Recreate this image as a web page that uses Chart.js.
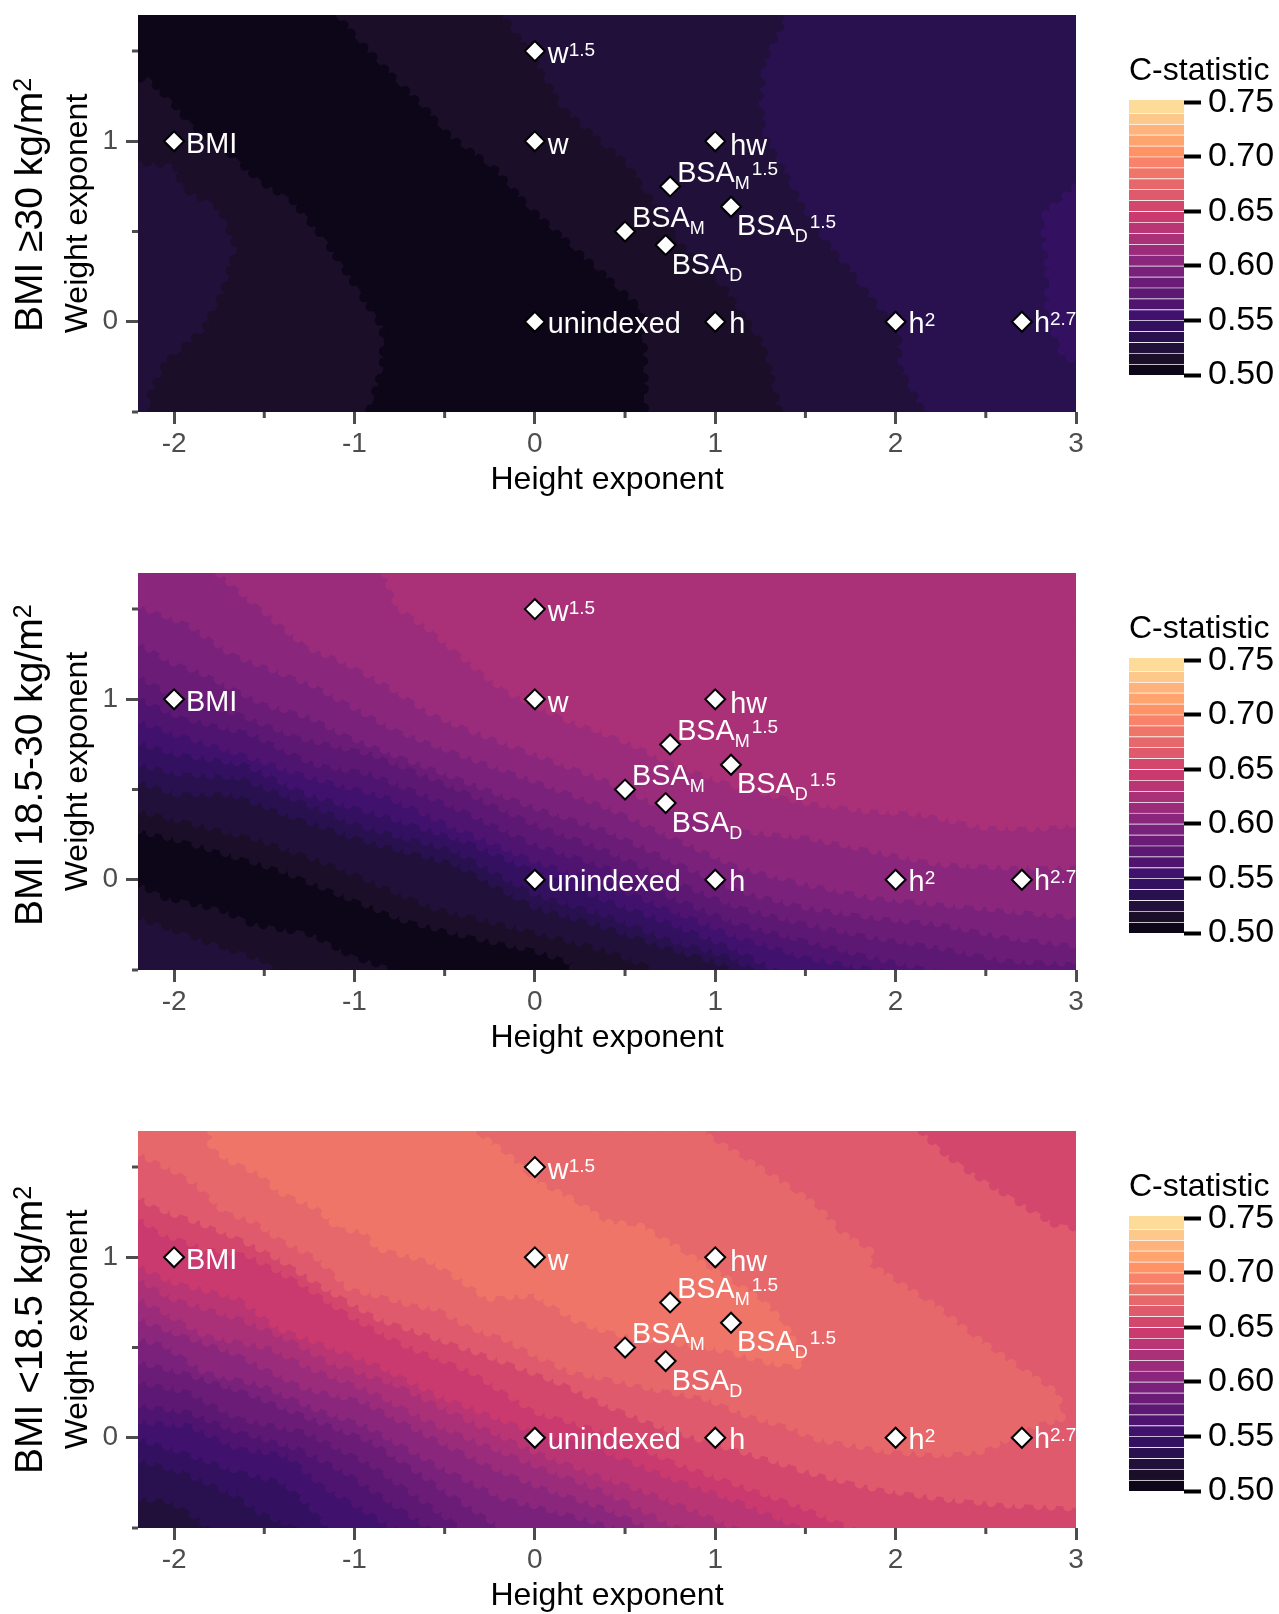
<!DOCTYPE html>
<html>
<head>
<meta charset="utf-8">
<title>C-statistic by height and weight exponent</title>
<script src="https://cdn.jsdelivr.net/npm/chart.js@4"></script>
<style>
  html, body { margin: 0; padding: 0; background: #fff; }
  #page { position: relative; width: 1279px; height: 1614px; overflow: hidden; }
  canvas { position: absolute; }
</style>
</head>
<body>
<div id="page"></div>
<script>
// axis ticks
const xMajorTicks = [-2, -1, 0, 1, 2, 3];
const xMinorTicks = [-1.5, -0.5, 0.5, 1.5, 2.5];
const yMajorTicks = [0, 1];
const yMinorTicks = [-0.5, 0.5, 1.5];
const colorbarTicks = [0.5, 0.55, 0.6, 0.65, 0.7, 0.75];
const colorbarEdges = [0.5, 0.51, 0.52, 0.53, 0.54, 0.55, 0.56, 0.57, 0.58, 0.59, 0.6, 0.61, 0.62, 0.63, 0.64, 0.65, 0.66, 0.67, 0.68, 0.69, 0.7, 0.71, 0.72, 0.73, 0.74, 0.7525];

// indexing methods, marked on each panel
const markerMain = ['BMI', 'w', 'w', 'hw', 'BSA', 'BSA', 'BSA', 'BSA', 'unindexed', 'h', 'h', 'h'];
const markerSub = ['', '', '', '', 'M', 'M', 'D', 'D', '', '', '', ''];
const markerSup = ['', '', '1.5', '', '1.5', '', '1.5', '', '', '', '2', '2.7'];
const markerX = [-2, 0, 0, 1, 0.75, 0.5, 1.0875, 0.725, 0, 1, 2, 2.7];
const markerY = [1, 1, 1.5, 1, 0.75, 0.5, 0.6375, 0.425, 0, 0, 0, 0];

// one colour per 0.01 step of the C-statistic
const magmaSteps = ['#0c0618', '#1b0e28', '#20103a', '#291150', '#331060', '#41116e', '#4f146f', '#5c1873', '#6a1c77', '#7a227b', '#8a277c', '#9a2c7b', '#aa3078', '#b93573', '#ca3a6e', '#d4476d', '#de5a6c', '#e7686a', '#f07569', '#f8836a', '#ff9366', '#ffa36f', '#feb27c', '#fdc98b', '#fddc9a'];

const X_MIN = -2.2, X_MAX = 3, Y_MIN = -0.5, Y_MAX = 1.7;

// contour, closed over the part of the plot above it
function above(points) {
  const out = points.slice();
  const first = points[0], last = points[points.length - 1];
  if (last[1] === Y_MIN) out.push([X_MAX, Y_MIN]);
  out.push([X_MAX, Y_MAX]);
  if (first[0] === X_MIN) out.push([X_MIN, Y_MAX]);
  return out;
}

const fullPlot = [[X_MIN, Y_MIN], [X_MAX, Y_MIN], [X_MAX, Y_MAX], [X_MIN, Y_MAX]];

// regions are painted in order, each is [C-statistic step, outline]
const obeseRegions = [
  [0.53, fullPlot],
  [0.54, [[3, 0.745], [2.82, 0.58], [2.85, 0.3], [2.85, 0.03], [2.94, -0.195], [3, -0.205]]],
  [0.52, [[-2.2, 1.7], [1.387, 1.7], [1.26, 1.447], [1.24, 1.225], [1.26, 1.04], [1.387, 0.8], [1.534, 0.524], [1.76, 0.247], [2.01, -0.066], [2.01, -0.25], [2.145, -0.5], [-2.2, -0.5]]],
  [0.51, [[-2.2, 1.7], [-0.192, 1.7], [0, 1.428], [0.136, 1.188], [0.36, 0.985], [0.5, 0.875], [0.81, 0.41], [1.05, 0.173], [1.26, -0.14], [1.35, -0.5], [-2.13, -0.5], [-2.13, -0.417], [-2.04, -0.23], [-1.83, -0.05], [-1.72, 0.17], [-1.65, 0.413], [-1.74, 0.635], [-1.945, 0.745], [-1.99, 0.875], [-2.2, 0.89]]],
  [0.5, [[-2.2, 1.7], [-1.11, 1.7], [-0.97, 1.54], [-0.79, 1.35], [-0.61, 1.17], [-0.475, 1.02], [-0.226, 0.84], [-0.045, 0.635], [0.18, 0.43], [0.385, 0.247], [0.584, 0.063], [0.6, -0.16], [0.606, -0.5], [-0.916, -0.5], [-0.837, -0.25], [-0.837, -0.03], [-1.018, 0.247], [-1.154, 0.45], [-1.335, 0.672], [-1.516, 0.782], [-1.7, 0.948], [-1.9, 1.096], [-2.01, 1.225], [-2.14, 1.354], [-2.2, 1.354]]]
];

const midRegions = [
  [0.52, fullPlot],
  [0.51, above([[-2.2, -0.199], [-1.83, -0.329], [-1.5, -0.439], [-1.43, -0.5]])],
  [0.5, above([[-2.2, -0.015], [-2.05, -0.089], [-1.72, -0.162], [-1.57, -0.236], [-1.24, -0.292], [-1, -0.421], [-0.74, -0.5]])],
  [0.51, above([[-2.2, 0.28], [-1.96, 0.225], [-1.4, 0.059], [-1.18, -0.033], [-0.72, -0.218], [-0.35, -0.31], [0, -0.384], [0.2, -0.449], [0.22, -0.5]])],
  [0.52, above([[-2.2, 0.391], [-1.96, 0.336], [-1.51, 0.225], [-1.09, 0.078], [-0.57, -0.144], [-0.11, -0.255], [0.406, -0.384], [0.58, -0.449], [0.69, -0.5]])],
  [0.53, above([[-2.2, 0.557], [-1.99, 0.484], [-1.68, 0.484], [-1.33, 0.354], [-0.94, 0.225], [-0.44, 0.096], [0, -0.144], [0.406, -0.255], [0.67, -0.347], [1.04, -0.458], [1.1, -0.5]])],
  [0.54, above([[-2.2, 0.65], [-1.96, 0.594], [-1.64, 0.576], [-1.31, 0.447], [-0.94, 0.299], [-0.44, 0.17], [0, -0.07], [0.406, -0.19], [0.765, -0.329], [1.1, -0.421], [1.226, -0.5]])],
  [0.55, above([[-2.2, 0.77], [-1.98, 0.705], [-1.61, 0.65], [-1.26, 0.484], [-0.87, 0.373], [-0.39, 0.225], [0, 0.059], [0.406, -0.107], [0.765, -0.236], [1.134, -0.384], [1.355, -0.5]])],
  [0.56, above([[-2.2, 0.89], [-1.99, 0.816], [-1.68, 0.723], [-1.24, 0.576], [-0.81, 0.465], [-0.44, 0.299], [0, 0.114], [0.406, -0.015], [0.765, -0.162], [1.134, -0.31], [1.503, -0.421], [1.965, -0.5]])],
  [0.57, above([[-2.2, 1.019], [-1.96, 0.908], [-1.57, 0.816], [-1.22, 0.65], [-0.9, 0.594], [-0.44, 0.41], [0, 0.207], [0.406, 0.078], [0.765, -0.089], [1.134, -0.236], [1.503, -0.329], [1.873, -0.421], [2.242, -0.5]])],
  [0.58, above([[-2.2, 1.139], [-1.98, 1.019], [-1.64, 0.927], [-1.31, 0.797], [-0.9, 0.705], [-0.44, 0.52], [0, 0.317], [0.406, 0.17], [0.765, 0.004], [1.134, -0.144], [1.503, -0.236], [1.873, -0.31], [2.242, -0.365], [2.61, -0.439], [3, -0.458]])],
  [0.59, above([[-2.2, 1.323], [-2.01, 1.213], [-1.83, 1.148], [-1.5, 0.982], [-1.24, 0.908], [-1.02, 0.797], [-0.74, 0.687], [-0.44, 0.576], [0, 0.41], [0.406, 0.28], [0.765, 0.114], [1.134, -0.052], [1.503, -0.144], [1.873, -0.199], [2.242, -0.236], [2.61, -0.31], [3, -0.356]])],
  [0.6, above([[-2.2, 1.526], [-1.92, 1.425], [-1.68, 1.259], [-1.22, 1.083], [-1, 0.963], [-0.76, 0.834], [-0.42, 0.705], [0, 0.557], [0.406, 0.41], [0.765, 0.244], [1.134, 0.078], [1.503, -0.015], [1.873, -0.089], [2.242, -0.126], [2.61, -0.162], [3, -0.199]])],
  [0.61, above([[-1.745, 1.7], [-1.46, 1.462], [-1.26, 1.296], [-1.07, 1.222], [-0.83, 1.093], [-0.57, 0.927], [-0.35, 0.834], [0, 0.705], [0.406, 0.557], [0.67, 0.428], [1.134, 0.28], [1.503, 0.244], [1.873, 0.17], [2.242, 0.096], [2.61, 0.078], [3, 0.078]])],
  [0.62, above([[-0.83, 1.7], [-0.757, 1.517], [-0.572, 1.388], [-0.332, 1.185], [-0.166, 1.056], [0.185, 0.89], [0.351, 0.834], [0.488, 0.779], [0.58, 0.742], [0.765, 0.65], [1.134, 0.52], [1.503, 0.437], [1.835, 0.391], [2.15, 0.373], [2.48, 0.299], [2.796, 0.29], [3, 0.317]])]
];

const leanRegions = [
  [0.52, fullPlot],
  [0.53, above([[-2.2, -0.327], [-2.01, -0.345], [-1.9, -0.419], [-1.79, -0.5]])],
  [0.54, above([[-2.2, -0.114], [-1.96, -0.179], [-1.66, -0.308], [-1.53, -0.4], [-1.31, -0.5]])],
  [0.55, above([[-2.2, 0.005], [-1.96, -0.068], [-1.64, -0.179], [-1.4, -0.234], [-1.27, -0.345], [-1.13, -0.5]])],
  [0.56, above([[-2.2, 0.098], [-1.92, 0.079], [-1.64, -0.05], [-1.37, -0.087], [-1.18, -0.253], [-0.76, -0.5]])],
  [0.57, above([[-2.2, 0.19], [-1.92, 0.153], [-1.64, 0.042], [-1.31, -0.05], [-1.05, -0.179], [-0.57, -0.5]])],
  [0.58, above([[-2.2, 0.319], [-1.92, 0.264], [-1.64, 0.116], [-1.27, 0.042], [-0.9, -0.142], [-0.39, -0.5]])],
  [0.59, above([[-2.2, 0.43], [-1.96, 0.374], [-1.61, 0.264], [-1.24, 0.116], [-0.9, -0.012], [-0.54, -0.253], [-0.17, -0.5]])],
  [0.6, above([[-2.2, 0.559], [-2.05, 0.522], [-1.83, 0.374], [-1.51, 0.301], [-1.22, 0.171], [-0.94, 0.079], [-0.54, -0.142], [-0.17, -0.327], [0.2, -0.42], [0.49, -0.5]])],
  [0.61, above([[-2.2, 0.67], [-2.01, 0.596], [-1.68, 0.485], [-1.27, 0.283], [-0.94, 0.208], [-0.63, 0.042], [-0.26, -0.142], [0, -0.253], [0.395, -0.382], [0.66, -0.5]])],
  [0.62, above([[-2.2, 0.781], [-2.09, 0.725], [-1.83, 0.578], [-1.46, 0.504], [-1.24, 0.393], [-0.9, 0.264], [-0.54, 0.079], [0, -0.142], [0.395, -0.29], [0.58, -0.382], [0.82, -0.5]])],
  [0.63, above([[-2.2, 0.891], [-2.01, 0.781], [-1.64, 0.67], [-1.37, 0.559], [-1.14, 0.43], [-0.76, 0.301], [-0.35, 0.098], [0, -0.068], [0.395, -0.216], [0.67, -0.308], [0.95, -0.419], [1.134, -0.5]])],
  [0.64, above([[-2.2, 0.965], [-2.01, 0.873], [-1.64, 0.781], [-1.42, 0.615], [-1.16, 0.522], [-0.87, 0.411], [-0.54, 0.245], [0, 0.042], [0.395, -0.068], [0.765, -0.216], [1.134, -0.345], [1.503, -0.5]])],
  [0.65, above([[-2.2, 1.233], [-2.09, 1.15], [-1.83, 1.057], [-1.59, 1.021], [-1.31, 0.873], [-1, 0.67], [-0.72, 0.522], [-0.35, 0.374], [0, 0.153], [0.395, 0.042], [0.765, -0.124], [1.134, -0.253], [1.503, -0.382], [1.78, -0.5]])],
  [0.66, above([[-2.2, 1.345], [-2.09, 1.279], [-1.87, 1.205], [-1.64, 1.113], [-1.42, 1.002], [-1.16, 0.836], [-0.87, 0.67], [-0.54, 0.559], [-0.17, 0.43], [0.17, 0.301], [0.395, 0.19], [0.67, 0.079], [0.95, -0.012], [1.28, -0.105], [1.503, -0.179], [1.873, -0.271], [2.242, -0.327], [2.61, -0.364], [3, -0.382]])],
  [0.65, [[2.15, 1.7], [2.26, 1.594], [2.408, 1.484], [2.648, 1.334], [2.888, 1.187], [3, 1.17], [3, 1.7]]],
  [0.67, [[-2.2, 1.585], [-2.01, 1.493], [-1.87, 1.41], [-1.72, 1.26], [-1.55, 1.205], [-1.42, 1.113], [-1.2, 1.002], [-1.03, 0.836], [-0.81, 0.781], [-0.68, 0.744], [-0.54, 0.725], [-0.35, 0.615], [-0.17, 0.559], [0, 0.467], [0.2, 0.374], [0.395, 0.337], [0.635, 0.283], [0.95, 0.226], [1.17, 0.135], [1.43, 0.061], [1.54, 0.005], [1.965, -0.068], [2.242, -0.087], [2.48, -0.068], [2.777, 0.079], [2.925, 0.116], [2.888, 0.245], [2.61, 0.43], [2.426, 0.559], [2.242, 0.707], [1.836, 0.965], [1.873, 1.021], [1.688, 1.131], [1.577, 1.26], [1.503, 1.316], [1.28, 1.465], [1.134, 1.557], [0.95, 1.667], [0.93, 1.7], [-2.2, 1.7]]],
  [0.68, [[-1.79, 1.7], [-1.79, 1.612], [-1.68, 1.539], [-1.51, 1.465], [-1.42, 1.373], [-1.2, 1.279], [-1.09, 1.168], [-0.94, 1.15], [-0.87, 1.057], [-0.57, 0.984], [-0.42, 0.891], [-0.26, 0.781], [0, 0.799], [0.24, 0.652], [0.406, 0.596], [0.58, 0.559], [1.005, 0.504], [1.28, 0.43], [1.448, 0.402], [1.485, 0.43], [1.374, 0.633], [1.245, 0.762], [1.005, 0.91], [0.765, 1.057], [0.58, 1.168], [0.395, 1.187], [0.2, 1.316], [0, 1.41], [-0.15, 1.557], [-0.35, 1.7]]]
];

const panels = [
  { top: 0, main: 'BMI \u226530 kg/m', labelStart: 332, regions: obeseRegions },
  { top: 558, main: 'BMI 18.5-30 kg/m', labelStart: 368, regions: midRegions },
  { top: 1116, main: 'BMI <18.5 kg/m', labelStart: 358, regions: leanRegions }
];

// pixel offset of each marker's text from its diamond
const labelDx = [12, 13, 13, 15, 7, 7, 6, 6, 13, 14, 13, 12];
const labelDy = [12, 13, 12, 14, -4, -5, 28, 29, 11, 11, 11, 10];

const FONT = '"Liberation Sans", Arial, sans-serif';
const TICK_GREY = '#4d4d4d';
const page = document.getElementById('page');

function bandColor(step) {
  return magmaSteps[Math.round((step - 0.5) * 100)];
}

function addCanvas(left, top, width, height) {
  const c = document.createElement('canvas');
  c.width = width;
  c.height = height;
  c.style.left = left + 'px';
  c.style.top = top + 'px';
  c.style.width = width + 'px';
  c.style.height = height + 'px';
  page.appendChild(c);
  return c;
}

// short ticks without a label, Chart.js has only one tick length per axis
const minorTicks = {
  id: 'minorTicks',
  afterDraw(chart) {
    const { ctx, chartArea, scales } = chart;
    ctx.save();
    ctx.strokeStyle = TICK_GREY;
    ctx.lineWidth = 3;
    ctx.beginPath();
    xMinorTicks.forEach(v => {
      const px = scales.x.getPixelForValue(v);
      ctx.moveTo(px, chartArea.bottom);
      ctx.lineTo(px, chartArea.bottom + 6);
    });
    yMinorTicks.forEach(v => {
      const py = scales.y.getPixelForValue(v);
      ctx.moveTo(chartArea.left, py);
      ctx.lineTo(chartArea.left - 6, py);
    });
    ctx.stroke();
    ctx.restore();
  }
};

// white labels next to the diamonds, with their sub and superscripts
const markerLabels = {
  id: 'markerLabels',
  afterDatasetsDraw(chart) {
    const { ctx, scales } = chart;
    ctx.save();
    ctx.fillStyle = '#fff';
    ctx.textBaseline = 'alphabetic';
    ctx.textAlign = 'left';
    markerMain.forEach((text, i) => {
      let x = scales.x.getPixelForValue(markerX[i]) + labelDx[i];
      const y = scales.y.getPixelForValue(markerY[i]) + labelDy[i];
      ctx.font = '28.8px ' + FONT;
      ctx.fillText(text, x, y);
      x += ctx.measureText(text).width;
      if (markerSub[i]) {
        ctx.font = '18px ' + FONT;
        ctx.fillText(markerSub[i], x, y + 7);
        x += ctx.measureText(markerSub[i]).width + 2;
      }
      if (markerSup[i]) {
        ctx.font = '19px ' + FONT;
        ctx.fillText(markerSup[i], x, y - 7);
      }
    });
    ctx.restore();
  }
};

// rotated panel name at the far left
const panelName = {
  id: 'panelName',
  afterDraw(chart, args, opts) {
    const ctx = chart.ctx;
    ctx.save();
    ctx.translate(42, opts.start);
    ctx.rotate(-Math.PI / 2);
    ctx.fillStyle = '#000';
    ctx.textAlign = 'left';
    ctx.textBaseline = 'alphabetic';
    ctx.font = '39px ' + FONT;
    ctx.fillText(opts.text, 0, 0);
    const w = ctx.measureText(opts.text).width;
    ctx.font = '25px ' + FONT;
    ctx.fillText('2', w, -11);
    ctx.restore();
  }
};

function drawPanel(panel) {
  const canvas = addCanvas(0, panel.top, 1095, 515);

  // the round dashes along each outline give the scalloped contour edge
  const regionSets = panel.regions.map(([step, outline]) => ({
    data: outline.map(([x, y]) => ({ x, y })),
    showLine: true,
    fill: 'shape',
    backgroundColor: bandColor(step),
    borderColor: bandColor(step),
    borderWidth: 10,
    borderCapStyle: 'round',
    borderDash: [0.01, 13, 0.01, 17, 0.01, 11, 0.01, 19],
    pointRadius: 0,
    tension: 0,
    clip: 0
  })).reverse(); // first dataset ends up on top

  new Chart(canvas, {
    type: 'scatter',
    data: {
      datasets: [{
        data: markerX.map((x, i) => ({ x, y: markerY[i] })),
        pointStyle: 'rectRot',
        pointRadius: 10,
        pointBackgroundColor: '#fff',
        pointBorderColor: '#000',
        pointBorderWidth: 2,
        showLine: false,
        clip: false
      }, ...regionSets]
    },
    options: {
      responsive: false,
      animation: false,
      devicePixelRatio: 1,
      layout: { padding: { top: 15, bottom: 8, left: 0, right: 19 } },
      plugins: {
        legend: { display: false },
        tooltip: { enabled: false },
        panelName: { text: panel.main, start: panel.labelStart }
      },
      scales: {
        x: {
          type: 'linear',
          min: X_MIN,
          max: X_MAX,
          afterBuildTicks: s => { s.ticks = xMajorTicks.map(value => ({ value })); },
          afterFit: s => { s.height = 95; s.paddingLeft = 0; s.paddingRight = 0; },
          grid: { drawOnChartArea: false, tickLength: 12, tickColor: TICK_GREY, tickWidth: 3 },
          border: { display: false },
          ticks: { color: TICK_GREY, font: { family: FONT, size: 28 }, padding: 3, maxRotation: 0, callback: v => String(v) },
          title: { display: true, text: 'Height exponent', color: '#000', font: { family: FONT, size: 32 }, padding: { top: 0, bottom: 8 } }
        },
        y: {
          type: 'linear',
          min: Y_MIN,
          max: Y_MAX,
          afterBuildTicks: s => { s.ticks = yMajorTicks.map(value => ({ value })); },
          afterFit: s => { s.width = 138; s.paddingTop = 0; s.paddingBottom = 0; },
          grid: { drawOnChartArea: false, tickLength: 12, tickColor: TICK_GREY, tickWidth: 3 },
          border: { display: false },
          ticks: { color: TICK_GREY, font: { family: FONT, size: 28 }, padding: 8, callback: v => String(v) },
          title: { display: true, text: 'Weight exponent', color: '#000', font: { family: FONT, size: 32 }, padding: { top: 59, bottom: 0 } }
        }
      }
    },
    plugins: [minorTicks, markerLabels, panelName]
  });

  drawColorbar(panel.top);
}

function drawColorbar(panelTop) {
  const canvas = addCanvas(1129, panelTop + 40, 150, 370);
  const bands = magmaSteps.map((color, i) => ({
    data: [[colorbarEdges[i], colorbarEdges[i + 1]]],
    backgroundColor: color,
    borderColor: 'rgba(255,255,255,0.22)',
    borderWidth: { top: 1, bottom: 0, left: 0, right: 0 },
    borderSkipped: false,
    barPercentage: 1,
    categoryPercentage: 1
  }));
  new Chart(canvas, {
    type: 'bar',
    data: { labels: ['C-statistic'], datasets: bands },
    options: {
      responsive: false,
      animation: false,
      devicePixelRatio: 1,
      layout: { padding: { top: 0, bottom: 35, left: 0, right: 0 } },
      plugins: {
        legend: { display: false },
        tooltip: { enabled: false },
        title: {
          display: true,
          text: 'C-statistic',
          align: 'start',
          color: '#000',
          font: { family: FONT, size: 32, weight: 'normal' },
          padding: { top: 12, bottom: 9 }
        }
      },
      scales: {
        x: { display: false, stacked: true },
        y: {
          position: 'right',
          stacked: false,
          min: 0.5,
          max: 0.7525,
          afterBuildTicks: s => { s.ticks = colorbarTicks.map(value => ({ value })); },
          afterFit: s => { s.width = 95; },
          grid: { drawOnChartArea: false, tickLength: 17, tickColor: '#000', tickWidth: 4 },
          border: { display: false },
          ticks: { color: '#000', font: { family: FONT, size: 34 }, padding: 7, callback: v => v.toFixed(2) }
        }
      }
    }
  });
}

panels.forEach(drawPanel);
</script>
</body>
</html>
